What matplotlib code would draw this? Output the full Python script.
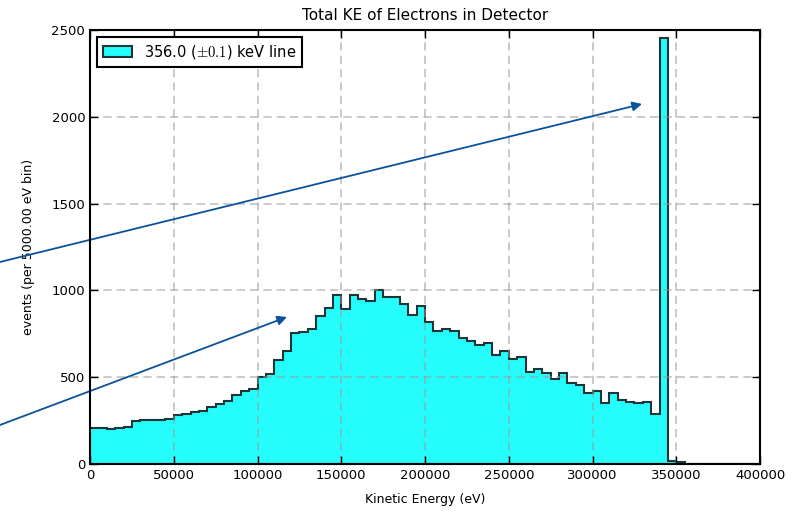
import numpy as np
import matplotlib
matplotlib.use("Agg")
import matplotlib.pyplot as plt

plt.rcParams['mathtext.fontset'] = 'cm'

bin_width = 5000
bin_starts = list(range(0, 400000, bin_width))
counts = [210, 210, 200, 205, 215, 245, 255, 255, 255, 262,
          280, 290, 300, 305, 330, 345, 360, 400, 420, 430,
          500, 520, 600, 650, 755, 760, 780, 850, 900, 975,
          895, 975, 950, 940, 1000, 960, 960, 920, 860, 910,
          820, 765, 776, 765, 724, 710, 685, 695, 628, 651,
          603, 618, 532, 545, 526, 488, 526, 465, 455, 411,
          422, 353, 411, 369, 355, 354, 356, 288, 2452, 20,
          12, 0, 0, 0, 0, 0, 0, 0, 0, 0]

title = "Total KE of Electrons in Detector"
xlabel = "Kinetic Energy (eV)"
ylabel = "events (per 5000.00 eV bin)"
legend_label = r"356.0 ($\pm0.1$) keV line"
xticks = [0, 50000, 100000, 150000, 200000, 250000, 300000, 350000, 400000]
yticks = [0, 500, 1000, 1500, 2000, 2500]

fig = plt.figure(figsize=(7.98, 5.14), dpi=100)
ax = fig.add_axes([0.1128, 0.0973, 0.8396, 0.8443])

edges = np.array(bin_starts + [bin_starts[-1] + bin_width])
centers = np.array(bin_starts) + bin_width / 2
ax.hist(centers, bins=edges, weights=counts, histtype='stepfilled',
        facecolor='#25fdfd', edgecolor='#1c3536', linewidth=1.5,
        label=legend_label, zorder=1)

ax.set_xlim(0, 400000)
ax.set_ylim(0, 2500)
ax.set_xticks(xticks)
ax.set_yticks(yticks)
ax.grid(True, linestyle=(0, (5, 3)), color='#999999', alpha=0.6, linewidth=1.2, zorder=2)
ax.set_axisbelow(False)
ax.tick_params(direction='in', top=True, right=True, length=6, width=1,
               labelsize=9.5, colors='black')
for s in ax.spines.values():
    s.set_linewidth(1.5)
    s.set_zorder(3)

ax.set_title(title, fontsize=11, pad=7)
ax.set_xlabel(xlabel, fontsize=9, labelpad=8)
ax.set_ylabel(ylabel, fontsize=9, labelpad=12)

leg = ax.legend(loc='upper left', fontsize=10.5, fancybox=False,
                framealpha=1, edgecolor='black', borderaxespad=0.5,
                handlelength=2.0)
leg.get_frame().set_linewidth(1.5)

arrow_color = '#0b529c'
ax.annotate('', xy=(0.8045, 0.7977), xytext=(0.0, 0.4903),
            xycoords='figure fraction', textcoords='figure fraction',
            arrowprops=dict(arrowstyle='-|>', color=arrow_color, lw=1.3,
                            mutation_scale=14, shrinkA=0, shrinkB=0),
            annotation_clip=False)
ax.annotate('', xy=(0.3596, 0.3833), xytext=(0.0, 0.1732),
            xycoords='figure fraction', textcoords='figure fraction',
            arrowprops=dict(arrowstyle='-|>', color=arrow_color, lw=1.3,
                            mutation_scale=14, shrinkA=0, shrinkB=0),
            annotation_clip=False)

fig.savefig('out.png', dpi=100)
